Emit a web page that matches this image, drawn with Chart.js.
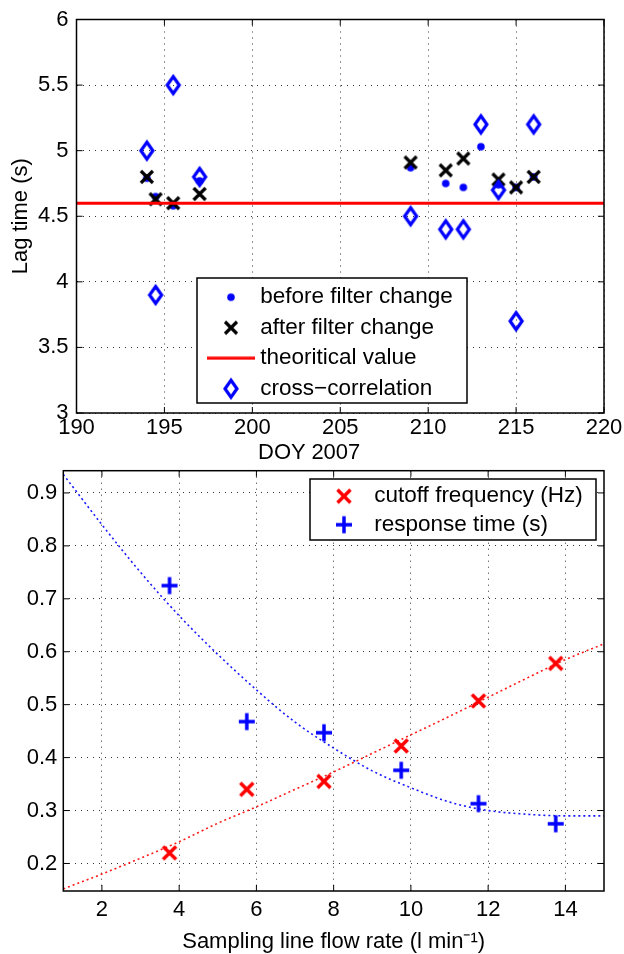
<!DOCTYPE html>
<html>
<head>
<meta charset="utf-8">
<script src="https://cdn.jsdelivr.net/npm/chart.js@4.4.0/dist/chart.umd.min.js"></script>
<style>
  html, body { margin: 0; padding: 0; background: #fff; overflow: hidden; }
  #lagchart { position: absolute; left: 0; top: 0; }
  #flowchart { position: absolute; left: 0; top: 460px; }
  #doylabel { position: absolute; left: 258px; top: 441px; font: 22px "Liberation Sans", Arial, sans-serif; line-height: 22px; color: #000; }
</style>
</head>
<body>
<canvas id="lagchart" width="624" height="460"></canvas>
<canvas id="flowchart" width="624" height="494"></canvas>
<div id="doylabel">DOY 2007</div>
<script>
// top panel: lag time vs day of year
const doyTicks = [190, 195, 200, 205, 210, 215, 220];
const lagTicks = [3, 3.5, 4, 4.5, 5, 5.5, 6];
const beforeDoy = [194, 194.5, 195.5, 197, 209, 211, 212, 213, 214, 215, 216];
const beforeLag = [4.79, 4.65, 4.58, 4.77, 4.87, 4.75, 4.72, 5.03, 4.74, 4.72, 4.80];
const afterDoy = [194, 194.5, 195.5, 197, 209, 211, 212, 214, 215, 216];
const afterLag = [4.80, 4.63, 4.60, 4.67, 4.91, 4.85, 4.94, 4.78, 4.72, 4.80];
const xcorrDoy = [194, 194.5, 195.5, 197, 209, 211, 212, 213, 214, 215, 216];
const xcorrLag = [5.0, 3.9, 5.5, 4.8, 4.5, 4.4, 4.4, 5.2, 4.7, 3.7, 5.2];
const theoryDoy = [190, 220];
const theoryLag = [4.6, 4.6];

// bottom panel: cutoff frequency / response time vs flow rate
const flowTicks = [2, 4, 6, 8, 10, 12, 14];
const valueTicks = [0.2, 0.3, 0.4, 0.5, 0.6, 0.7, 0.8, 0.9];
const flowRate = [3.75, 5.75, 7.75, 9.75, 11.75, 13.75];
const cutoffFreq = [0.22, 0.34, 0.355, 0.422, 0.507, 0.578];
const responseTime = [0.725, 0.468, 0.447, 0.376, 0.313, 0.275];
const fitFlow = [1, 2, 3, 4, 5, 6, 7, 8, 9, 10, 11, 12, 13, 14, 15];
const cutoffFit = [0.152, 0.18, 0.21, 0.241, 0.276, 0.307, 0.34, 0.373, 0.408, 0.443, 0.478, 0.514, 0.55, 0.585, 0.615];
const responseFit = [0.935, 0.84, 0.75, 0.668, 0.595, 0.528, 0.467, 0.418, 0.375, 0.343, 0.316, 0.3, 0.293, 0.29, 0.29];

Chart.defaults.font.family = '"Liberation Sans", Arial, sans-serif';
Chart.defaults.font.size = 22;
Chart.defaults.color = "#000";

function pts(xs, ys) {
    return xs.map((x, i) => ({ x: x, y: ys[i] }));
}

function marker(w, h, paint) {
    const c = document.createElement("canvas");
    c.width = w;
    c.height = h;
    paint(c.getContext("2d"));
    return c;
}

const blueDot = marker(10, 10, g => {
    g.fillStyle = "#0000ff";
    g.beginPath();
    g.arc(5, 5, 3.8, 0, Math.PI * 2);
    g.fill();
});
const blackX = marker(16, 16, g => {
    g.strokeStyle = "#000";
    g.lineWidth = 3.2;
    g.beginPath();
    g.moveTo(2, 2); g.lineTo(14, 14);
    g.moveTo(14, 2); g.lineTo(2, 14);
    g.stroke();
});
const redLine = marker(48, 4, g => {
    g.fillStyle = "#ff0000";
    g.fillRect(0, 0.5, 48, 3);
});
const blueDiamond = marker(20, 26, g => {
    g.strokeStyle = "#0000ff";
    g.lineWidth = 3.2;
    g.beginPath();
    g.moveTo(10, 4.5); g.lineTo(16, 13); g.lineTo(10, 21.5); g.lineTo(4, 13);
    g.closePath();
    g.stroke();
});
const redX = marker(18, 18, g => {
    g.strokeStyle = "#ff0000";
    g.lineWidth = 3.5;
    g.beginPath();
    g.moveTo(2.5, 2.5); g.lineTo(15.5, 15.5);
    g.moveTo(15.5, 2.5); g.lineTo(2.5, 15.5);
    g.stroke();
});
const bluePlus = marker(20, 20, g => {
    g.strokeStyle = "#0000ff";
    g.lineWidth = 3.5;
    g.beginPath();
    g.moveTo(2, 10); g.lineTo(18, 10);
    g.moveTo(10, 1.5); g.lineTo(10, 18.5);
    g.stroke();
});

// box round the plot area with inward tick marks, like matlab
const framePlugin = {
    id: "frame",
    afterDatasetsDraw(chart) {
        const ctx = chart.ctx;
        const a = chart.chartArea;
        const sx = chart.scales.x, sy = chart.scales.y;
        ctx.save();
        ctx.strokeStyle = "#000";
        ctx.lineWidth = 1;
        ctx.beginPath();
        sx.ticks.forEach(t => {
            const px = sx.getPixelForValue(t.value);
            ctx.moveTo(px, a.bottom); ctx.lineTo(px, a.bottom - 6);
            ctx.moveTo(px, a.top); ctx.lineTo(px, a.top + 6);
        });
        sy.ticks.forEach(t => {
            const py = sy.getPixelForValue(t.value);
            ctx.moveTo(a.left, py); ctx.lineTo(a.left + 6, py);
            ctx.moveTo(a.right, py); ctx.lineTo(a.right - 6, py);
        });
        ctx.stroke();
        ctx.lineWidth = 1.5;
        ctx.strokeRect(a.left, a.top, a.right - a.left, a.bottom - a.top);
        ctx.restore();
    }
};

// legend sits inside the plot in a white box with a border, drawn on top
const boxedLegend = {
    id: "boxedLegend",
    afterInit(chart) {
        const lg = chart.legend;
        lg._layers = () => [{
            z: 1,
            draw: () => {
                const o = chart.$legendBox;
                const ctx = chart.ctx;
                ctx.save();
                ctx.fillStyle = "#fff";
                ctx.fillRect(o.x, o.y, o.w, o.h);
                ctx.strokeStyle = "#000";
                ctx.lineWidth = 1.5;
                ctx.strokeRect(o.x, o.y, o.w, o.h);
                ctx.restore();
                lg.draw();
            }
        }];
    },
    afterLayout(chart, args, o) {
        chart.$legendBox = { x: o.x, y: o.y, w: o.w, h: o.h };
        const lg = chart.legend;
        lg.left = o.x + o.inset;
        lg.top = o.y;
        lg.right = o.x + o.w;
        lg.bottom = o.y + o.h + 40;
        lg.width = lg.right - lg.left;
        lg.height = lg.bottom - lg.top;
    }
};

const gridStyle = { color: "#333", lineWidth: 1, drawTicks: false };
const dotted = { display: false, dash: [1, 5] };

new Chart(document.getElementById("lagchart"), {
    type: "scatter",
    data: {
        datasets: [
            { label: "before filter change", data: pts(beforeDoy, beforeLag), pointStyle: blueDot, pointRadius: 8, order: 4 },
            { label: "after filter change", data: pts(afterDoy, afterLag), pointStyle: blackX, pointRadius: 8, order: 3 },
            { label: "theoritical value", data: pts(theoryDoy, theoryLag), showLine: true, borderColor: "#ff0000", borderWidth: 3, pointRadius: 0, pointStyle: redLine, order: 2 },
            { label: "cross\u2212correlation", data: pts(xcorrDoy, xcorrLag), pointStyle: blueDiamond, pointRadius: 10, order: 1 }
        ]
    },
    options: {
        responsive: false,
        animation: false,
        devicePixelRatio: 1,
        events: [],
        layout: { autoPadding: false, padding: { top: 19.5, right: 20, bottom: 0, left: 0 } },
        plugins: {
            tooltip: { enabled: false },
            legend: {
                position: "chartArea",
                align: "start",
                labels: {
                    usePointStyle: true,
                    pointStyleWidth: 36,
                    padding: 8,
                    color: "#000",
                    font: { size: 22.5 },
                    sort: (a, b) => a.datasetIndex - b.datasetIndex
                }
            },
            boxedLegend: { x: 197, y: 278, w: 270, h: 125, inset: 8 }
        },
        scales: {
            x: {
                type: "linear",
                min: 190,
                max: 220,
                afterBuildTicks: s => { s.ticks = doyTicks.map(v => ({ value: v })); },
                afterFit: s => { s.height = 47; s.paddingLeft = 0; s.paddingRight = 0; },
                ticks: { padding: 1.5, maxRotation: 0, autoSkip: false, color: "#000", callback: v => String(v) },
                grid: gridStyle,
                border: dotted
            },
            y: {
                type: "linear",
                min: 3,
                max: 6,
                afterBuildTicks: s => { s.ticks = lagTicks.map(v => ({ value: v })); },
                afterFit: s => { s.width = 76.5; s.paddingTop = 0; s.paddingBottom = 0; },
                ticks: { padding: 8, autoSkip: false, color: "#000", callback: v => String(v) },
                grid: gridStyle,
                border: dotted,
                title: { display: true, text: "Lag time (s)", color: "#000", font: { size: 22 }, padding: { top: 8, bottom: 0 } }
            }
        }
    },
    plugins: [framePlugin, boxedLegend]
});

new Chart(document.getElementById("flowchart"), {
    type: "scatter",
    data: {
        datasets: [
            { label: "cutoff frequency (Hz)", data: pts(flowRate, cutoffFreq), pointStyle: redX, pointRadius: 8, order: 1 },
            { label: "response time (s)", data: pts(flowRate, responseTime), pointStyle: bluePlus, pointRadius: 8, order: 2 },
            { label: "cutoff fit", inLegend: false, data: pts(fitFlow, cutoffFit), showLine: true, borderColor: "rgba(255,0,0,0.9)", borderWidth: 1.6, borderDash: [2, 3], cubicInterpolationMode: "monotone", pointRadius: 0, order: 3 },
            { label: "response fit", inLegend: false, data: pts(fitFlow, responseFit), showLine: true, borderColor: "rgba(0,0,255,0.9)", borderWidth: 1.6, borderDash: [2, 3], cubicInterpolationMode: "monotone", pointRadius: 0, order: 4 }
        ]
    },
    options: {
        responsive: false,
        animation: false,
        devicePixelRatio: 1,
        events: [],
        layout: { autoPadding: false, padding: { top: 10.7, right: 20, bottom: 0, left: 0 } },
        plugins: {
            tooltip: { enabled: false },
            legend: {
                position: "chartArea",
                align: "start",
                labels: {
                    usePointStyle: true,
                    pointStyleWidth: 38,
                    padding: 6,
                    color: "#000",
                    font: { size: 22.5 },
                    filter: (item, data) => data.datasets[item.datasetIndex].inLegend !== false
                }
            },
            boxedLegend: { x: 310, y: 19, w: 286, h: 61, inset: 9 }
        },
        scales: {
            x: {
                type: "linear",
                min: 1,
                max: 15,
                afterBuildTicks: s => { s.ticks = flowTicks.map(v => ({ value: v })); },
                afterFit: s => { s.height = 63; s.paddingLeft = 0; s.paddingRight = 0; },
                ticks: { padding: 5.8, maxRotation: 0, autoSkip: false, color: "#000", callback: v => String(v) },
                grid: gridStyle,
                border: dotted,
                title: { display: true, text: "Sampling line flow rate (l min\u207B\u00B9)", color: "#000", font: { size: 22, lineHeight: 1 }, padding: { top: 0, bottom: 1 } }
            },
            y: {
                type: "linear",
                min: 0.148,
                max: 0.942,
                afterBuildTicks: s => { s.ticks = valueTicks.map(v => ({ value: v })); },
                afterFit: s => { s.width = 63.3; s.paddingTop = 0; s.paddingBottom = 0; },
                ticks: { padding: 6, autoSkip: false, color: "#000", callback: v => String(v) },
                grid: gridStyle,
                border: dotted
            }
        }
    },
    plugins: [framePlugin, boxedLegend]
});
</script>
</body>
</html>
